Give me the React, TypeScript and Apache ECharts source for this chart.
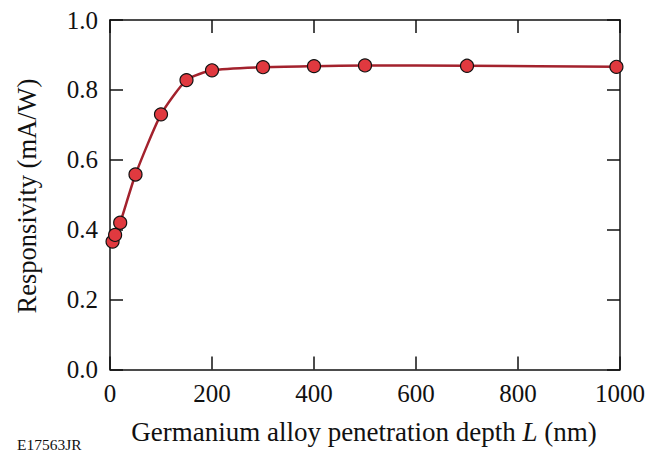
import React, { useEffect, useRef } from "react";
import * as echarts from "echarts";

const depthNm = [5, 10, 20, 50, 100, 150, 200, 300, 400, 500, 700, 993];
const responsivity = [0.366, 0.385, 0.42, 0.558, 0.73, 0.828, 0.856, 0.865, 0.868, 0.87, 0.869, 0.866];
const xTicks = [0, 200, 400, 600, 800, 1000];
const yTicks = [0.0, 0.2, 0.4, 0.6, 0.8, 1.0];

const FONT = "Liberation Serif";

export default function App() {
  const ref = useRef<HTMLDivElement>(null);
  useEffect(() => {
    document.body.style.margin = "0";
    const chart = echarts.init(ref.current!, null, { renderer: "svg" });
    const axisLine = { show: true, onZero: false, lineStyle: { color: "#111", width: 1.5 } };
    const axisTick = { show: true, inside: true, length: 13, lineStyle: { color: "#111", width: 1.5 } };
    chart.setOption({
      animation: false,
      backgroundColor: "#fff",
      textStyle: { fontFamily: FONT },
      grid: { left: 110, right: 37, top: 20, bottom: 81.5, containLabel: false },
      xAxis: [
        {
          type: "value",
          min: xTicks[0],
          max: xTicks[xTicks.length - 1],
          interval: 200,
          axisLine,
          axisTick,
          splitLine: { show: false },
          axisLabel: {
            color: "#111",
            fontFamily: FONT,
            fontSize: 25,
            margin: 11,
            formatter: (v: number) => String(v),
          },
        },
        {
          type: "value",
          position: "top",
          min: xTicks[0],
          max: xTicks[xTicks.length - 1],
          interval: 200,
          axisLine,
          axisTick,
          splitLine: { show: false },
          axisLabel: { show: false },
        },
      ],
      yAxis: [
        {
          type: "value",
          min: yTicks[0],
          max: yTicks[yTicks.length - 1],
          interval: 0.2,
          axisLine,
          axisTick,
          splitLine: { show: false },
          axisLabel: {
            color: "#111",
            fontFamily: FONT,
            fontSize: 25,
            margin: 12,
            formatter: (v: number) => v.toFixed(1),
          },
        },
        {
          type: "value",
          position: "right",
          min: yTicks[0],
          max: yTicks[yTicks.length - 1],
          interval: 0.2,
          axisLine,
          axisTick,
          splitLine: { show: false },
          axisLabel: { show: false },
        },
      ],
      series: [
        {
          type: "line",
          data: depthNm.map((x, i) => [x, responsivity[i]]),
          smooth: 0.2,
          symbol: "circle",
          symbolSize: 13,
          lineStyle: { color: "#a3222d", width: 2.5 },
          itemStyle: { color: "#e0393f", borderColor: "#111", borderWidth: 1.2 },
          z: 3,
        },
      ],
      graphic: [
        {
          type: "text",
          x: 27,
          y: 196,
          rotation: Math.PI / 2,
          style: {
            text: "Responsivity (mA/W)",
            fontFamily: FONT,
            fontSize: 26.5,
            fill: "#111",
            align: "center",
            verticalAlign: "middle",
          },
        },
        {
          type: "text",
          x: 364,
          y: 432,
          style: {
            text: "Germanium alloy penetration depth {i|L} (nm)",
            fontFamily: FONT,
            fontSize: 27,
            fill: "#111",
            align: "center",
            verticalAlign: "middle",
            rich: { i: { fontFamily: FONT, fontSize: 27, fontStyle: "italic", fill: "#111" } },
          },
        },
        {
          type: "text",
          x: 17,
          y: 444,
          style: {
            text: "E17563JR",
            fontFamily: FONT,
            fontSize: 15.5,
            fill: "#111",
            align: "left",
            verticalAlign: "middle",
          },
        },
      ],
    });
    return () => chart.dispose();
  }, []);
  return <div ref={ref} style={{ width: 657, height: 451 }} />;
}
